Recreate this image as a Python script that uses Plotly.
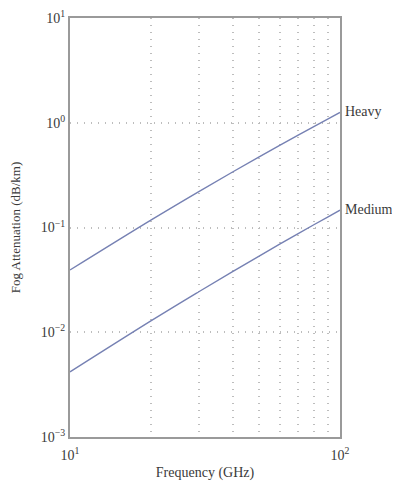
import plotly.graph_objects as go
import math

freq = [10, 20, 30, 40, 50, 60, 70, 80, 90, 100]
heavy = [0.0393, 0.1183, 0.2204, 0.3388, 0.470, 0.611, 0.762, 0.920, 1.084, 1.256]
medium = [0.00418, 0.01289, 0.02436, 0.03793, 0.05309, 0.06966, 0.08745, 0.1062, 0.1259, 0.1466]

x_tickvals = [10, 20, 30, 40, 50, 60, 70, 80, 90, 100]
x_ticktext = ["10<sup>1</sup>", "", "", "", "", "", "", "", "", "10<sup>2</sup>"]
y_tickvals = [0.001, 0.01, 0.1, 1, 10]
y_ticktext = ["10<sup>\u22123</sup>", "10<sup>\u22122</sup>", "10<sup>\u22121</sup>", "10<sup>0</sup>", "10<sup>1</sup>"]

line_color = "#7681b3"
font_family = "Liberation Serif"
text_color = "#3a3a3a"
axis_color = "#9a9a9a"
grid_color = "#bdbdbd"

fig = go.Figure()
fig.add_trace(go.Scatter(x=freq, y=heavy, mode="lines", line=dict(color=line_color, width=1.4, shape="spline"), name="Heavy"))
fig.add_trace(go.Scatter(x=freq, y=medium, mode="lines", line=dict(color=line_color, width=1.4, shape="spline"), name="Medium"))

for name, series in (("Heavy", heavy), ("Medium", medium)):
    fig.add_annotation(x=math.log10(freq[-1]), y=math.log10(series[-1]), text=name,
                       xref="x", yref="y", xanchor="left", yanchor="middle", xshift=3, yshift=1,
                       showarrow=False, font=dict(family=font_family, size=14, color=text_color))

# page body has an 8px margin, so the figure is sized/offset to place the plot as in the reference
fig.update_layout(
    width=392, height=473,
    margin=dict(l=62, r=60, t=10, b=44),
    paper_bgcolor="white", plot_bgcolor="white",
    showlegend=False,
    font=dict(family=font_family, size=12, color=text_color),
    xaxis=dict(type="log", range=[1, 2], tickvals=x_tickvals, ticktext=x_ticktext,
               showgrid=True, gridcolor=grid_color, griddash="1px 6px", gridwidth=1.5,
               showline=True, linecolor=axis_color, linewidth=2, mirror=True,
               ticks="", zeroline=False, automargin=False, ticklabelstandoff=4,
               tickfont=dict(family=font_family, size=14, color=text_color),
               title=dict(text="Frequency (GHz)", font=dict(family=font_family, size=14, color=text_color), standoff=6)),
    yaxis=dict(type="log", range=[-3, 1], tickvals=y_tickvals, ticktext=y_ticktext,
               showgrid=True, gridcolor=grid_color, griddash="1px 6px", gridwidth=1.5,
               showline=True, linecolor=axis_color, linewidth=2, mirror=True,
               ticks="", zeroline=False, automargin=False,
               tickfont=dict(family=font_family, size=14, color=text_color),
               title=dict(text="Fog Attenuation (dB/km)", font=dict(family=font_family, size=13, color=text_color), standoff=24)),
)

fig.write_html("out.html")
